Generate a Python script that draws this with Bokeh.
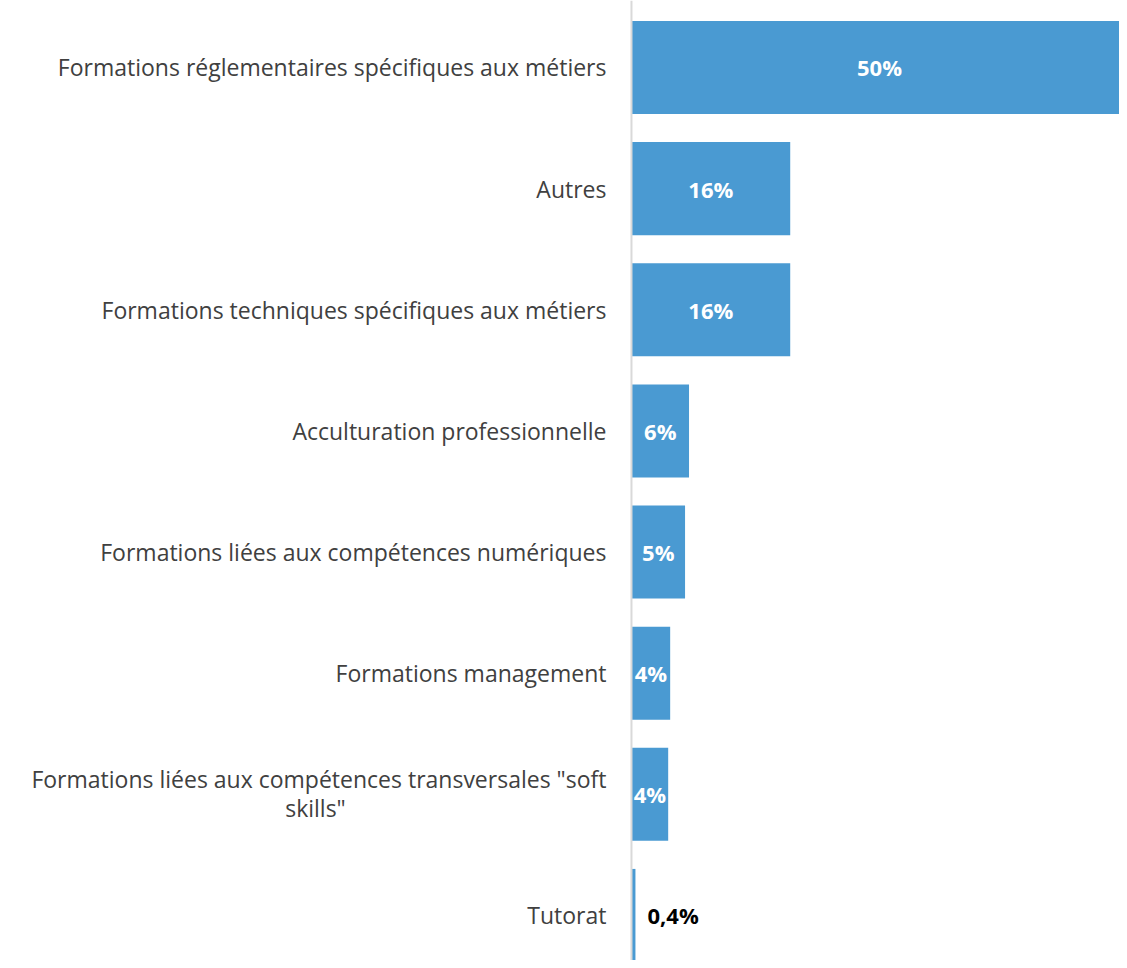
from bokeh.plotting import figure
from bokeh.models import ColumnDataSource, Range1d, Span
from bokeh.core.properties import value
from bokeh.embed import file_html
from bokeh.resources import INLINE

categories = [
    "Formations réglementaires spécifiques aux métiers",
    "Autres",
    "Formations techniques spécifiques aux métiers",
    "Acculturation professionnelle",
    "Formations liées aux compétences numériques",
    "Formations management",
    "Formations liées aux compétences transversales \"soft\nskills\"",
    "Tutorat",
]
values = [50.0, 16.0, 16.0, 5.8, 5.4, 3.9, 3.7, 0.4]
value_labels = ["50%", "16%", "16%", "6%", "5%", "4%", "4%", "0,4%"]

pos = list(range(len(categories)))
W, H = 1119, 960
FONT = value("Open Sans")
LABEL_SIZE = "23px"
VALUE_SIZE = "22px"

p = figure(width=W, height=H, output_backend="svg", toolbar_location=None,
           x_range=Range1d(-63.6, 49.19), y_range=Range1d(7.372, -0.553),
           min_border=0, min_border_left=0, min_border_right=0,
           min_border_top=0, min_border_bottom=0)
p.axis.visible = False
p.grid.visible = False
p.outline_line_color = None
p.background_fill_color = "white"
p.border_fill_color = "white"

src = ColumnDataSource(dict(y=pos, v=values, lab=value_labels))
p.hbar(y="y", left=0, right="v", height=0.768, source=src,
       fill_color="#4A9AD2", line_color=None)

p.add_layout(Span(location=0, dimension="height", line_color="#d9d9d9", line_width=2))

# category labels
single = [(c, i) for i, c in zip(pos, categories) if "\n" not in c]
p.text(x=[0] * len(single), y=[i for _, i in single], text=[c for c, _ in single],
       x_offset=-25, text_align="right", text_baseline="middle",
       text_font=FONT, text_font_size=LABEL_SIZE, text_color="#404040")
multi = [(c, i) for i, c in zip(pos, categories) if "\n" in c]
for c, i in multi:
    first, second = c.split("\n")
    p.text(x=[0], y=[i], text=[first], x_offset=-25, y_offset=-15,
           text_align="right", text_baseline="middle",
           text_font=FONT, text_font_size=LABEL_SIZE, text_color="#404040")
    p.text(x=[0], y=[i], text=[second], x_offset=-316, y_offset=14,
           text_align="center", text_baseline="middle",
           text_font=FONT, text_font_size=LABEL_SIZE, text_color="#404040")

# value labels
inside = dict(y=[], x=[], t=[])
outside = dict(y=[], x=[], t=[])
for i, v, t in zip(pos, values, value_labels):
    if v >= 1:
        inside["y"].append(i); inside["x"].append(v / 2); inside["t"].append(t)
    else:
        outside["y"].append(i); outside["x"].append(v); outside["t"].append(t)
p.text(x=inside["x"], y=inside["y"], text=inside["t"], text_align="center",
       text_baseline="middle", text_font=FONT, text_font_size=VALUE_SIZE,
       text_font_style="bold", text_color="white")
p.text(x=outside["x"], y=outside["y"], text=outside["t"], x_offset=12,
       text_align="left", text_baseline="middle", text_font=FONT,
       text_font_size=VALUE_SIZE, text_font_style="bold", text_color="black")

open("out.html", "w").write(file_html(p, INLINE))
